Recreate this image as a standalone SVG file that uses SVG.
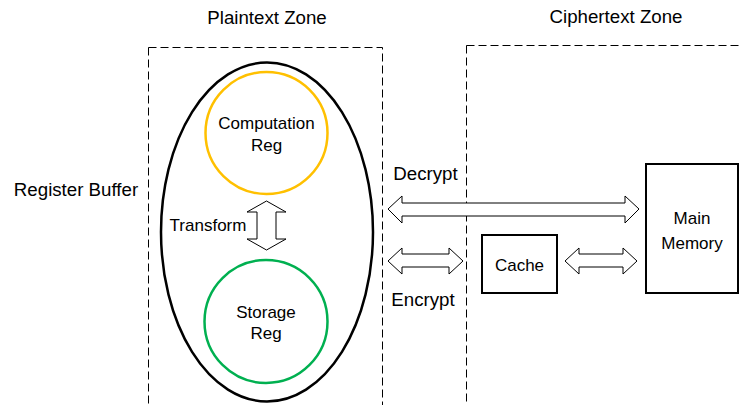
<svg xmlns="http://www.w3.org/2000/svg" width="742" height="405" viewBox="0 0 742 405">
<style>
text{font-family:"Liberation Sans",Arial,sans-serif;font-size:17px;fill:#000;text-anchor:middle}
.big{font-size:18.7px}
.zone{fill:none;stroke:#000;stroke-width:1;stroke-dasharray:8,4}
.box{fill:#fff;stroke:#000;stroke-width:2}
.arr{fill:#fff;stroke:#000;stroke-width:1;stroke-linejoin:miter}
</style>
<rect width="742" height="405" fill="#fff"/>
<g id="plaintext-zone">
<rect class="zone" x="148.5" y="47.5" width="234" height="400"/>
<text class="big" x="267" y="24">Plaintext Zone</text>
</g>
<g id="ciphertext-zone">
<rect class="zone" x="466.5" y="45.5" width="300" height="400"/>
<text class="big" x="616" y="23">Ciphertext Zone</text>
</g>
<g id="register-buffer">
<ellipse cx="267" cy="232" rx="106" ry="169.5" fill="none" stroke="#000" stroke-width="2.5"/>
<text class="big" x="76" y="196">Register Buffer</text>
</g>
<g id="computation-reg">
<circle cx="266.5" cy="133" r="61" fill="none" stroke="#FFC000" stroke-width="2.5"/>
<text x="266.5" y="129">Computation</text>
<text x="266.5" y="151">Reg</text>
</g>
<g id="storage-reg">
<circle cx="266" cy="321.5" r="61.5" fill="none" stroke="#00B050" stroke-width="2.5"/>
<text x="266" y="318">Storage</text>
<text x="266" y="339">Reg</text>
</g>
<g id="cache">
<rect class="box" x="482" y="235" width="75" height="58"/>
<text x="519.5" y="271">Cache</text>
</g>
<g id="main-memory">
<rect class="box" x="646" y="164" width="92" height="129"/>
<text x="692" y="224">Main</text>
<text x="692" y="249">Memory</text>
</g>
<g id="connectors">
<polygon class="arr" points="266.5,201 286,212 276,212 276,239 286,239 266.5,250 247,239 257,239 257,212 247,212"/>
<text x="208" y="231">Transform</text>
<polygon class="arr" points="388,209 402,196 402,203 625,203 625,196 639,209 625,223 625,216 402,216 402,223"/>
<text class="big" x="425.5" y="180">Decrypt</text>
<polygon class="arr" points="388,261 402,248 402,254 449,254 449,248 463,261 449,274 449,267 402,267 402,274"/>
<text class="big" x="423" y="306">Encrypt</text>
<polygon class="arr" points="565,261 579,248 579,254 623,254 623,248 637,261 623,274 623,267 579,267 579,274"/>
</g>
</svg>
